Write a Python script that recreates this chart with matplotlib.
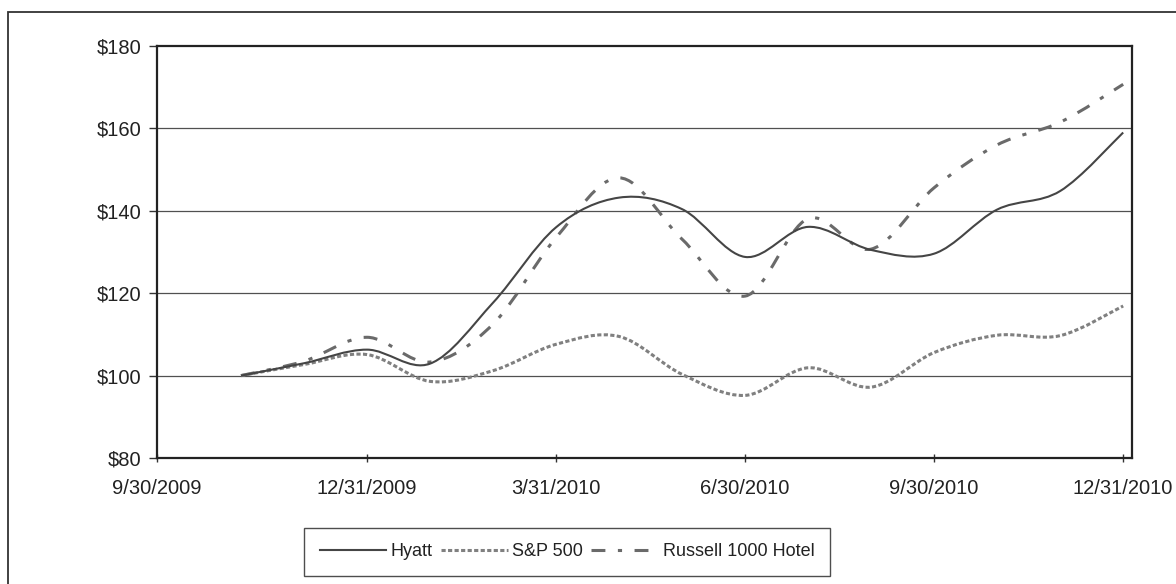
import numpy as np
import matplotlib
matplotlib.use('Agg')
import matplotlib.pyplot as plt
from matplotlib.path import Path
from matplotlib.patches import PathPatch, Rectangle
from matplotlib.lines import Line2D

plt.rcParams['font.family'] = ['Liberation Sans', 'DejaVu Sans']
plt.rcParams['lines.scale_dashes'] = False

# monthly values, 10/31/2009 .. 12/31/2010
hyatt = [100.0, 103.0, 106.3, 102.9, 117.7, 136.0, 143.2, 140.4, 128.8,
         136.1, 130.5, 129.6, 140.3, 144.8, 159.0]
sp500 = [100.0, 102.7, 105.1, 98.6, 101.2, 107.6, 109.5, 100.3, 95.2,
         101.9, 97.2, 105.6, 109.8, 109.7, 116.9]
russell = [100.0, 103.5, 109.3, 103.3, 112.5, 133.5, 148.0, 133.1, 119.3,
           138.1, 130.7, 145.6, 156.0, 161.5, 170.7]

x_labels = ['9/30/2009', '12/31/2009', '3/31/2010', '6/30/2010',
            '9/30/2010', '12/31/2010']
x_label_pos = [-4 / 3, 2, 5, 8, 11, 14]
y_ticks = [80, 100, 120, 140, 160, 180]


def smooth_path(xs, ys):
    # excel style smoothed line: cubic bezier through every point
    pts = np.column_stack([xs, ys])
    n = len(pts)
    verts = [pts[0]]
    codes = [Path.MOVETO]
    for i in range(n - 1):
        p_prev = pts[max(i - 1, 0)]
        p_next2 = pts[min(i + 2, n - 1)]
        c1 = pts[i] + (pts[i + 1] - p_prev) / 6
        c2 = pts[i + 1] - (p_next2 - pts[i]) / 6
        verts += [c1, c2, pts[i + 1]]
        codes += [Path.CURVE4] * 3
    return Path(verts, codes)


styles = {
    'Hyatt': dict(color='#454545', lw=1.5, ls='-'),
    'S&P 500': dict(color='#808080', lw=2.2, ls=(0, (3.0, 1.7))),
    'Russell 1000 Hotel': dict(color='#6a6a6a', lw=2.2,
                               ls=(0, (10, 9, 3, 9))),
}
series = {'Hyatt': hyatt, 'S&P 500': sp500, 'Russell 1000 Hotel': russell}

fig = plt.figure(figsize=(11.76, 5.84), dpi=100)
ax = fig.add_axes([157 / 1176, 1 - 458 / 584, 975 / 1176, 412 / 584])

ax.set_xlim(-4 / 3, 14.14)
ax.set_ylim(80, 180)

for val in y_ticks[1:-1]:
    ax.axhline(val, color='#505050', lw=0.9, zorder=1)

for name in ['Russell 1000 Hotel', 'S&P 500', 'Hyatt']:
    vals = series[name]
    st = styles[name]
    patch = PathPatch(smooth_path(np.arange(len(vals)), vals), fill=False,
                      edgecolor=st['color'], lw=st['lw'], ls=st['ls'],
                      zorder=3, capstyle='butt')
    ax.add_patch(patch)

ax.set_yticks(y_ticks)
ax.set_yticklabels([f'${v}' for v in y_ticks])
ax.set_xticks(x_label_pos)
ax.set_xticklabels(x_labels)
ax.tick_params(axis='y', direction='out', length=6, width=1, color='#333333',
               labelsize=14.5, labelcolor='#222222', pad=5)
ax.tick_params(axis='x', direction='inout', length=6, width=1, color='#333333',
               labelsize=14.5, labelcolor='#222222', pad=12)
for sp in ax.spines.values():
    sp.set_color('#222222')
    sp.set_linewidth(1.6)

handles = [Line2D([], [], color=styles[n]['color'], lw=styles[n]['lw'],
                  ls=styles[n]['ls']) for n in series]
leg = fig.legend(handles, list(series), loc='center', ncol=3,
                 bbox_to_anchor=(567 / 1176, 1 - 552 / 584), fontsize=13,
                 frameon=True, fancybox=False, handlelength=3.7,
                 handletextpad=0.25, columnspacing=0.45, borderpad=0.85,
                 borderaxespad=0)
leg.get_frame().set_edgecolor('#222222')
leg.get_frame().set_linewidth(1.0)
for t in leg.get_texts():
    t.set_color('#222222')

# outer chart border
fig.patches.append(Rectangle((8 / 1176, -0.05), 1.1, 1 - 12 / 584 + 0.05,
                             transform=fig.transFigure, fill=False,
                             edgecolor='#333333', lw=1.3))

fig.savefig('out.png', dpi=100)
